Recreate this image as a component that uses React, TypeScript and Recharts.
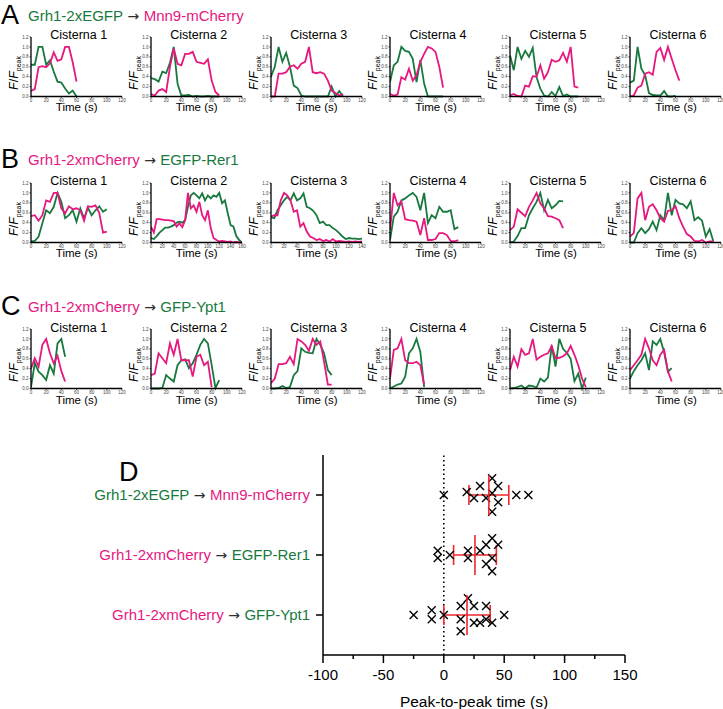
import React from 'react';
import { LineChart, Line, XAxis, YAxis, ScatterChart, Scatter, ErrorBar, ReferenceLine } from 'recharts';

const GREEN = '#17793d';
const PINK = '#e6177f';
const ARROW = '#2e2e2e';
const RED = '#f0262a';
const FONT = '"Liberation Sans", Arial, Helvetica, sans-serif';
const ARROW_FONT = '"DejaVu Sans", sans-serif';

const STEP = 5; // seconds between frames
const FRACTION_TICKS = [0, 0.2, 0.4, 0.6, 0.8, 1.0, 1.2];

// A: Grh1-2xEGFP (green) -> Mnn9-mCherry (pink)
const a1Green = [0.64, 0.64, 1.0, 1.0, 0.64, 0.73, 0.5, 0.3, 0.28, 0.16, 0.06, 0.12, 0.0];
const a1Pink = [0.11, 0.15, 0.59, 0.61, 0.59, 0.67, 0.89, 0.72, 0.75, 1.0, 1.0, 0.69, 0.3];
const a2Green = [0.37, 0.35, 0.3, 0.5, 0.47, 0.68, 1.0, 0.26, 0.02, 0.02, 0.03, 0.0, 0.01, 0.0, 0.0, 0.01, 0.0, 0.0, 0.0];
const a2Pink = [0.05, 0.02, 0.12, 0.15, 0.09, 0.6, 0.97, 0.66, 0.63, 0.86, 0.86, 0.9, 0.7, 0.68, 0.66, 0.75, 0.32, 0.09, 0.02];
const a3Green = [0.4, 0.6, 1.0, 0.7, 0.88, 0.6, 0.22, 0.17, 0.02, 0, 0, 0, 0, 0, 0, 0, 0.2, 0, 0.11, 0];
const a3Pink = [0, 0, 0.46, 0.46, 0.49, 0.6, 0.63, 0.56, 0.66, 0.7, 1.0, 0.49, 0.47, 0.49, 0.46, 0.32, 0.12, 0.07, 0.02, 0.05];
const a4Green = [0.29, 0.63, 0.7, 1.0, 0.92, 0.9, 0.76, 0.29, 0.74, 0.26, 0, 0, 0, 0, 0];
const a4Pink = [0.05, 0.02, 0.04, 0.39, 0.34, 0.56, 0.32, 0.43, 0.7, 0.86, 1.0, 0.97, 0.9, 0.6, 0.18];
const a5Green = [0.83, 0.53, 1.0, 0.76, 0.92, 0.8, 0.98, 0.39, 0.16, 0.02, 0, 0.09, 0.01, 0.19, 0.01, 0.04, 0, 0, 0];
const a5Pink = [0.02, 0.05, 0.01, 0, 0.22, 0.2, 0.41, 0.4, 0.63, 0.36, 0.49, 0.74, 0.7, 0.73, 0.88, 0.7, 1.0, 0.2, 0.18];
const a6Green = [0.28, 0.32, 1.0, 0.56, 0.43, 0.07, 0.03, 0.02, 0.02, 0.11, 0, 0, 0.02];
const a6Pink = [0, 0.02, 0.18, 0.22, 0.46, 0.49, 0.44, 0.9, 0.98, 0.74, 1.0, 0.76, 0.53, 0.32];

// B: Grh1-2xmCherry (pink) -> EGFP-Rer1 (green)
const b1Pink = [0.53, 0.55, 0.44, 0.55, 0.85, 0.82, 1.0, 1.0, 0.69, 0.59, 0.73, 0.67, 0.69, 0.65, 0.44, 0.73, 0.72, 0.75, 0.6, 0.2, 0.22];
const b1Green = [0.02, 0.03, 0.12, 0.39, 0.65, 0.59, 0.72, 1.0, 0.82, 0.49, 0.55, 0.65, 0.42, 0.69, 0.49, 0.7, 0.55, 0.65, 0.73, 0.62, 0.67];
const b2Pink = [0.32, 0.2, 0.47, 0.47, 0.46, 0.45, 0.45, 0.44, 0.43, 0.32, 0.39, 0.31, 0.45, 1.0, 0.69, 0.75, 0.62, 0.82, 0.55, 0.45, 0.65, 0.29, 0.09, 0.05, 0.02, 0.03, 0.02, 0.01, 0.02, 0.0, 0.01, 0.0, 0.0];
const b2Green = [0.09, 0.07, 0.13, 0.2, 0.25, 0.3, 0.3, 0.32, 0.35, 0.4, 0.42, 0.4, 0.45, 0.72, 0.95, 1.0, 0.95, 0.89, 0.99, 0.85, 0.95, 0.89, 0.95, 0.92, 1.0, 0.79, 0.85, 0.59, 0.35, 0.32, 0.13, 0.05, 0];
const b3Pink = [0.52, 0.55, 0.55, 0.85, 1.0, 0.95, 0.85, 0.62, 0.65, 0.32, 0.39, 0.22, 0.12, 0.09, 0.05, 0.07, 0.03, 0.05, 0.02, 0.07, 0.02, 0.03, 0.02, 0.01, 0.02, 0.01, 0.02, 0.01, 0.02];
const b3Green = [0.51, 0.49, 0.65, 0.75, 0.85, 0.92, 0.85, 0.99, 0.85, 0.89, 0.99, 0.72, 0.69, 0.64, 0.55, 0.39, 0.42, 0.35, 0.35, 0.29, 0.25, 0.19, 0.12, 0.07, 0.09, 0.08, 0.08, 0.07, 0.08];
const b4Pink = [0.25, 1.0, 0.75, 0.83, 0.47, 0.45, 0.44, 0.42, 0.15, 0.49, 0.05, 0.05, 0.07, 0.19, 0.19, 0.15, 0.03, 0.02, 0.05];
const b4Green = [0.05, 0.52, 0.62, 0.85, 0.89, 0.95, 1.0, 0.92, 0.65, 1.0, 0.39, 0.55, 0.49, 0.72, 0.62, 0.62, 0.65, 0.27, 0.31];
const b5Pink = [0.25, 0.32, 0.67, 0.6, 0.53, 0.72, 0.85, 1.0, 0.79, 0.69, 0.53, 0.52, 0.49, 0.45, 0.29];
const b5Green = [0, 0.02, 0.13, 0.29, 0.29, 0.55, 0.69, 0.82, 1.0, 0.65, 0.86, 0.69, 0.75, 0.84, 0.83];
const b6Pink = [0.12, 0.19, 0.89, 1.0, 0.45, 0.72, 0.77, 0.65, 0.49, 0.42, 0.64, 0.65, 0.73, 0.49, 0.32, 0.17, 0.12, 0.03, 0.02, 0.05, 0, 0.02, 0.02];
const b6Green = [0, 0, 0.19, 0.29, 0.19, 0.27, 0.42, 0.25, 0.55, 0.45, 1.0, 0.55, 0.86, 0.79, 0.77, 0.69, 0.83, 0.45, 0.51, 0.44, 0.12, 0.27, 0.02];

// C: Grh1-2xmCherry (pink) -> GFP-Ypt1 (green)
const c1Pink = [0.4, 0.61, 0.44, 0.88, 1.0, 0.71, 0.51, 0.66, 0.35, 0.14];
const c1Green = [0.03, 0.51, 0.34, 0.27, 0.17, 0.47, 0.3, 0.91, 1.0, 0.64];
const c2Pink = [0.27, 0.3, 0.71, 0.61, 0.51, 0.91, 0.68, 1.0, 0.57, 0.57, 0.57, 0.24, 0.64, 0.68, 0.47, 0.54, 0.03];
const c2Green = [0, 0, 0, 0.01, 0.27, 0.2, 0.14, 0.47, 0.57, 0.59, 0.41, 0.51, 0.68, 0.88, 1.0, 0.91, 0.47, 0.01, 0.17];
const c3Pink = [0.11, 0.2, 0.49, 0.49, 0.51, 0.64, 0.49, 1.0, 0.95, 0.88, 0.76, 1.0, 0.88, 0.95, 0.54, 0.08, 0.08];
const c3Green = [0, 0, 0.01, 0.05, 0.01, 0.03, 0.27, 0.35, 0.81, 0.74, 0.72, 0.71, 1.0, 0.88, 0.71, 0.37, 0.27];
const c4Pink = [0.2, 0.78, 0.81, 1.0, 0.57, 0.51, 0.51, 0.54, 0.47, 0.08];
const c4Green = [0, 0.04, 0.08, 0.1, 0.24, 0.71, 0.81, 1.0, 0.74, 0.03];
const c5Pink = [0.37, 0.64, 0.44, 0.79, 0.68, 0.71, 1.0, 0.58, 0.64, 0.68, 0.71, 0.86, 0.61, 0.62, 0.65, 0.71, 0.86, 0.68, 0.47, 0.2, 0.03];
const c5Green = [0, 0.01, 0.03, 0.06, 0, 0.06, 0.05, 0.02, 0.2, 0.14, 0.22, 0.86, 0.44, 1.0, 0.8, 0.72, 0.6, 0.15, 0.3, 0, 0.22];
const c6Pink = [0.37, 0.47, 0.57, 0.68, 1.0, 0.81, 0.57, 0.47, 0.68, 0.78, 0.35, 0.14];
const c6Green = [0.2, 0.35, 0.47, 0.57, 0.71, 0.37, 0.95, 0.88, 1.0, 0.73, 0.34, 0.41];

const headerA = [{ text: 'Grh1-2xEGFP', color: GREEN }, { text: ' \u2192 ', color: ARROW, arrow: true }, { text: 'Mnn9-mCherry', color: PINK }];
const headerB = [{ text: 'Grh1-2xmCherry', color: PINK }, { text: ' \u2192 ', color: ARROW, arrow: true }, { text: 'EGFP-Rer1', color: GREEN }];
const headerC = [{ text: 'Grh1-2xmCherry', color: PINK }, { text: ' \u2192 ', color: ARROW, arrow: true }, { text: 'GFP-Ypt1', color: GREEN }];

// D: peak-to-peak times, rows bottom -> top
const ypt1Peaks = [-25, -10, -10, 0, 14, 20, 25, 14, 30, 35, 35, 40, 14, 50, 25];
const ypt1Jitter = [0, 0.08, -0.07, 0, 0.15, 0.28, 0.15, -0.07, -0.13, 0.15, -0.07, -0.13, -0.27, 0, -0.13];
const rer1Peaks = [-5, -5, 5, 20, 20, 30, 35, 40, 45, 40, 35, 40];
const rer1Jitter = [0.07, -0.05, 0, 0.07, -0.05, 0.07, 0.17, 0.28, 0.17, -0.05, -0.15, -0.27];
const mnn9Peaks = [0, 19, 25, 30, 35, 40, 45, 40, 45, 40, 60, 70];
const mnn9Jitter = [0, 0.05, -0.05, 0.15, -0.05, 0.28, 0.15, 0.03, -0.12, -0.28, 0, 0];
const peakMeans = [19.2, 25.8, 37.3];
const peakSds = [19.2, 17.7, 16.5];
const rowDonors = ['Grh1-2xmCherry', 'Grh1-2xmCherry', 'Grh1-2xEGFP'];
const rowAcceptors = ['GFP-Ypt1', 'EGFP-Rer1', 'Mnn9-mCherry'];
const donorColors = [PINK, PINK, GREEN];
const acceptorColors = [GREEN, GREEN, PINK];
const D_TICKS = [-100, -75, -50, -25, 0, 25, 50, 75, 100, 125, 150];

const COL_X = [30.7, 150.7, 270.7, 390, 510, 630];
const ROW_Y = [36.7, 182.7, 329.3];
const PLOT_W = 91;
const PLOT_H = 59.5;
const AXIS_W = 30;

const centered: React.CSSProperties = {
  position: 'absolute',
  transform: 'translate(-50%, -50%)',
  whiteSpace: 'nowrap',
  lineHeight: 1,
  fontFamily: FONT,
};

function TraceChart({ x0, y0, title, green, pink, xMax }: any) {
  const n = Math.max(green.length, pink.length);
  const data: any[] = [];
  for (let i = 0; i < n; i++) data.push({ t: i * STEP, g: green[i], p: pink[i] });
  const xTicks: number[] = [];
  for (let v = 0; v <= xMax; v += 20) xTicks.push(v);
  return (
    <>
      <div style={{ position: 'absolute', left: x0 - AXIS_W, top: y0 - 4 }}>
        <LineChart width={AXIS_W + PLOT_W + 8} height={4 + PLOT_H + 8} data={data}
          margin={{ top: 4, right: 8, bottom: 0, left: 0 }}>
          <XAxis dataKey="t" type="number" domain={[0, xMax]} ticks={xTicks} interval={0} height={8}
            allowDataOverflow tick={{ fontSize: 4.5, fill: '#444', fontFamily: FONT }}
            tickSize={1.5} tickMargin={0.5}
            axisLine={{ stroke: '#000', strokeWidth: 1.3 }} tickLine={{ stroke: '#000', strokeWidth: 0.7 }} />
          <YAxis type="number" domain={[0, 1.2]} ticks={FRACTION_TICKS} interval={0} width={AXIS_W}
            tickFormatter={(v: number) => v.toFixed(1)}
            tick={{ fontSize: 4.5, fill: '#444', fontFamily: FONT }} tickSize={1.5} tickMargin={1}
            axisLine={{ stroke: '#000', strokeWidth: 1.3 }} tickLine={{ stroke: '#000', strokeWidth: 0.7 }} />
          <Line dataKey="g" type="linear" stroke={GREEN} strokeWidth={1.8} dot={false} isAnimationActive={false} />
          <Line dataKey="p" type="linear" stroke={PINK} strokeWidth={1.8} dot={false} isAnimationActive={false} />
        </LineChart>
      </div>
      <div style={{ ...centered, left: x0 + 48, top: y0 - 1.5, fontSize: 12.5 }}>{title}</div>
      <div style={{ ...centered, left: x0 + 46, top: y0 + PLOT_H + 12, fontSize: 11.5 }}>Time (s)</div>
      <div style={{ ...centered, left: x0 - 17, top: y0 + 36, fontSize: 12.5, transform: 'translate(-50%, -50%) rotate(-90deg)' }}>
        <i>F</i>/<i>F</i><span style={{ fontSize: 7, position: 'relative', top: 3 }}>peak</span>
      </div>
    </>
  );
}

function Header({ letter, y, parts }: any) {
  return (
    <>
      <div style={{ ...centered, transform: 'translate(0, -50%)', left: 1, top: y, fontSize: 27 }}>{letter}</div>
      <div style={{ ...centered, transform: 'translate(0, -50%)', left: 28, top: y, fontSize: 15 }}>
        {parts.map((p: any, i: number) => (
          <span key={i} style={{ color: p.color, fontFamily: p.arrow ? ARROW_FONT : FONT, fontSize: p.arrow ? 14 : 15 }}>{p.text}</span>
        ))}
      </div>
    </>
  );
}

const Cross = (props: any) => {
  const { cx, cy } = props;
  const s = 4;
  return (
    <g stroke="#000" strokeWidth={1.4}>
      <line x1={cx - s} y1={cy - s} x2={cx + s} y2={cy + s} />
      <line x1={cx - s} y1={cy + s} x2={cx + s} y2={cy - s} />
    </g>
  );
};

const MeanMark = (props: any) => {
  const { cx, cy } = props;
  return <line x1={cx} y1={cy - 20} x2={cx} y2={cy + 20} stroke={RED} strokeWidth={1.6} />;
};

const CatTick = (props: any) => {
  const { x, y, payload } = props;
  const i = payload.value;
  return (
    <text x={x} y={y} dy={5} textAnchor="end" fontSize={15} fontFamily={FONT}>
      <tspan fill={donorColors[i]}>{rowDonors[i]}</tspan>
      <tspan fill={ARROW} fontFamily={ARROW_FONT} fontSize={14}>{' \u2192 '}</tspan>
      <tspan fill={acceptorColors[i]}>{rowAcceptors[i]}</tspan>
    </text>
  );
};

const TimeTick = (props: any) => {
  const { x, y, payload } = props;
  const major = payload.value % 50 === 0;
  const axisY = y - 8;
  return (
    <g>
      <line x1={x} y1={axisY} x2={x} y2={axisY + (major ? 8 : 4)} stroke="#000" strokeWidth={1.5} />
      {major && (
        <text x={x} y={axisY + 20} dy={5} textAnchor="middle" fontSize={15} fontFamily={FONT} fill="#000">
          {payload.value}
        </text>
      )}
    </g>
  );
};

export default function App() {
  const traces = [
    { title: 'Cisterna 1', green: a1Green, pink: a1Pink, xMax: 120 },
    { title: 'Cisterna 2', green: a2Green, pink: a2Pink, xMax: 120 },
    { title: 'Cisterna 3', green: a3Green, pink: a3Pink, xMax: 120 },
    { title: 'Cisterna 4', green: a4Green, pink: a4Pink, xMax: 120 },
    { title: 'Cisterna 5', green: a5Green, pink: a5Pink, xMax: 120 },
    { title: 'Cisterna 6', green: a6Green, pink: a6Pink, xMax: 120 },
    { title: 'Cisterna 1', green: b1Green, pink: b1Pink, xMax: 120 },
    { title: 'Cisterna 2', green: b2Green, pink: b2Pink, xMax: 160 },
    { title: 'Cisterna 3', green: b3Green, pink: b3Pink, xMax: 140 },
    { title: 'Cisterna 4', green: b4Green, pink: b4Pink, xMax: 120 },
    { title: 'Cisterna 5', green: b5Green, pink: b5Pink, xMax: 120 },
    { title: 'Cisterna 6', green: b6Green, pink: b6Pink, xMax: 120 },
    { title: 'Cisterna 1', green: c1Green, pink: c1Pink, xMax: 120 },
    { title: 'Cisterna 2', green: c2Green, pink: c2Pink, xMax: 120 },
    { title: 'Cisterna 3', green: c3Green, pink: c3Pink, xMax: 120 },
    { title: 'Cisterna 4', green: c4Green, pink: c4Pink, xMax: 120 },
    { title: 'Cisterna 5', green: c5Green, pink: c5Pink, xMax: 120 },
    { title: 'Cisterna 6', green: c6Green, pink: c6Pink, xMax: 120 },
  ];

  const rows = [
    { xs: ypt1Peaks, js: ypt1Jitter },
    { xs: rer1Peaks, js: rer1Jitter },
    { xs: mnn9Peaks, js: mnn9Jitter },
  ];
  const points = rows.flatMap((r, row) => r.xs.map((x, i) => ({ x, y: row + r.js[i] })));
  const means = peakMeans.map((m, row) => ({ x: m, y: row, sd: peakSds[row] }));

  return (
    <div style={{ position: 'absolute', left: 0, top: 0, width: 723, height: 709, background: '#fff', overflow: 'hidden', fontFamily: FONT }}>
      <Header letter="A" y={15} parts={headerA} />
      <Header letter="B" y={159} parts={headerB} />
      <Header letter="C" y={306} parts={headerC} />
      {traces.map((t, i) => (
        <TraceChart key={i} x0={COL_X[i % 6]} y0={ROW_Y[Math.floor(i / 6)]} {...t} />
      ))}

      <div style={{ position: 'absolute', left: 119, top: 472, fontSize: 27, lineHeight: 1, transform: 'translate(0, -50%)' }}>D</div>
      <div style={{ position: 'absolute', left: 0, top: 445 }}>
        <ScatterChart width={723} height={264} margin={{ top: 10, right: 98, bottom: 0, left: 0 }}>
          <XAxis dataKey="x" type="number" domain={[-100, 150]} ticks={D_TICKS} interval={0} allowDataOverflow
            height={54} tickLine={false} tickSize={8} tickMargin={0} tick={<TimeTick />}
            axisLine={{ stroke: '#000', strokeWidth: 1.5 }}
            label={{ value: 'Peak-to-peak time (s)', position: 'insideBottom', offset: 2, fontSize: 15.5, fill: '#000', fontFamily: FONT }} />
          <YAxis dataKey="y" type="number" domain={[-2 / 3, 8 / 3]} ticks={[0, 1, 2]} interval={0} allowDataOverflow
            width={323} tickSize={7} tickMargin={6} tick={<CatTick />}
            axisLine={{ stroke: '#000', strokeWidth: 1.5 }} tickLine={{ stroke: '#000', strokeWidth: 1.5 }} />
          <ReferenceLine x={0} stroke="#000" strokeWidth={1.6} strokeDasharray="1.5 3" />
          <Scatter data={points} shape={<Cross />} isAnimationActive={false} />
          <Scatter data={means} shape={<MeanMark />} isAnimationActive={false}>
            <ErrorBar dataKey="sd" direction="x" width={10} stroke={RED} strokeWidth={1.6} isAnimationActive={false} />
          </Scatter>
        </ScatterChart>
      </div>
    </div>
  );
}
